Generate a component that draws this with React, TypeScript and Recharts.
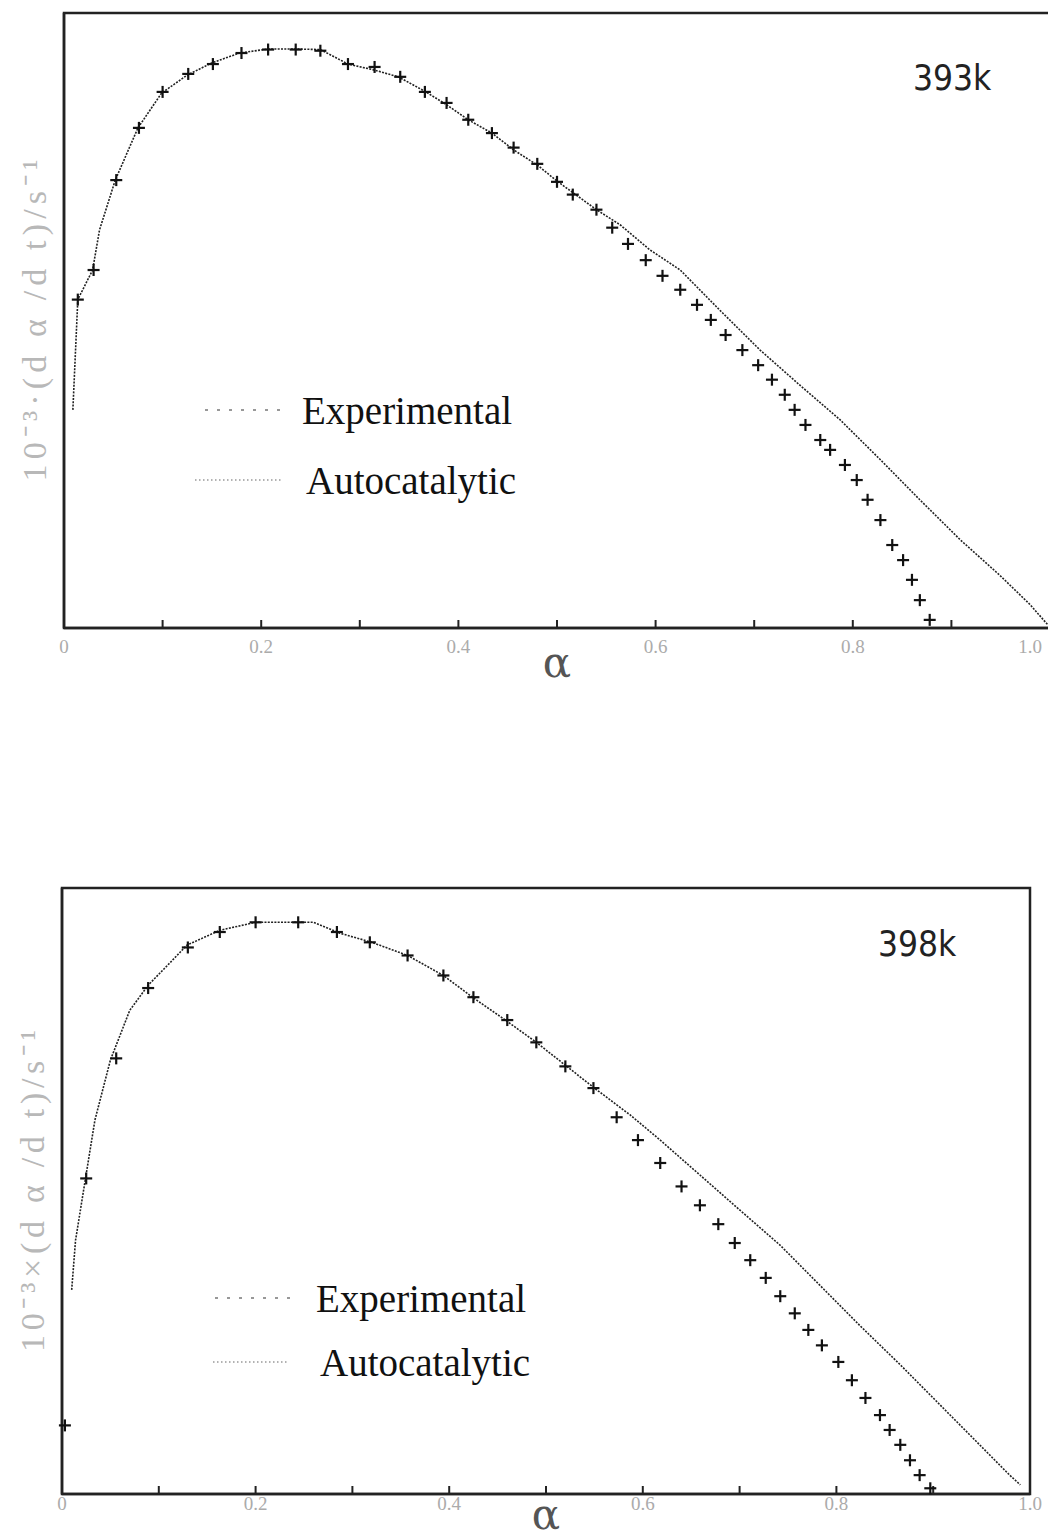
import { ComposedChart, Line, Scatter, XAxis, YAxis, ReferenceArea, Legend } from "recharts";

const alphaTicks = [0, 0.1, 0.2, 0.3, 0.4, 0.5, 0.6, 0.7, 0.8, 0.9, 1.0];
const rateTicks = [1, 2, 3, 4, 5, 6, 7, 8, 9, 10];
const legendNames = ["Experimental", "Autocatalytic"];

// 393 K
const autoAlpha393 = [0.009, 0.014, 0.029, 0.036, 0.052, 0.075, 0.099, 0.125, 0.15, 0.178, 0.207, 0.234, 0.26, 0.288, 0.314, 0.339, 0.365, 0.387, 0.41, 0.434, 0.456, 0.48, 0.501, 0.54, 0.564, 0.594, 0.625, 0.665, 0.706, 0.746, 0.787, 0.828, 0.868, 0.909, 0.949, 0.98, 0.998];
const autoRate393 = [3.76, 5.66, 6.17, 6.86, 7.72, 8.62, 9.22, 9.53, 9.74, 9.91, 9.98, 9.98, 9.97, 9.72, 9.62, 9.5, 9.26, 9.03, 8.76, 8.53, 8.24, 7.98, 7.69, 7.21, 6.95, 6.52, 6.17, 5.48, 4.79, 4.19, 3.59, 2.9, 2.21, 1.52, 0.91, 0.4, 0.05];
const expAlpha393 = [0.014, 0.03, 0.053, 0.076, 0.1, 0.126, 0.151, 0.18, 0.207, 0.235, 0.26, 0.288, 0.315, 0.341, 0.366, 0.388, 0.41, 0.434, 0.456, 0.48, 0.5, 0.516, 0.54, 0.556, 0.572, 0.59, 0.607, 0.625, 0.642, 0.656, 0.671, 0.688, 0.704, 0.718, 0.731, 0.741, 0.752, 0.767, 0.777, 0.792, 0.804, 0.815, 0.828, 0.84, 0.851, 0.86, 0.868, 0.878];
const expRate393 = [5.66, 6.17, 7.72, 8.62, 9.24, 9.55, 9.72, 9.91, 9.97, 9.97, 9.95, 9.72, 9.67, 9.5, 9.24, 9.05, 8.76, 8.53, 8.28, 8.0, 7.69, 7.47, 7.21, 6.9, 6.62, 6.34, 6.07, 5.83, 5.57, 5.31, 5.05, 4.79, 4.53, 4.28, 4.02, 3.76, 3.5, 3.24, 3.07, 2.81, 2.55, 2.21, 1.86, 1.43, 1.17, 0.83, 0.48, 0.14];

// 398 K
const autoAlpha398 = [0.01, 0.014, 0.024, 0.034, 0.05, 0.07, 0.089, 0.112, 0.129, 0.163, 0.2, 0.235, 0.26, 0.287, 0.32, 0.357, 0.394, 0.424, 0.458, 0.49, 0.52, 0.55, 0.587, 0.618, 0.659, 0.7, 0.742, 0.783, 0.824, 0.866, 0.907, 0.948, 0.979, 0.99];
const autoRate398 = [3.57, 4.44, 5.49, 6.54, 7.59, 8.46, 8.9, 9.3, 9.6, 9.86, 10, 10, 10, 9.81, 9.65, 9.42, 9.07, 8.69, 8.29, 7.9, 7.5, 7.1, 6.63, 6.19, 5.58, 4.97, 4.35, 3.65, 2.95, 2.26, 1.56, 0.86, 0.33, 0.16];
const expAlpha398 = [0.003, 0.025, 0.056, 0.089, 0.13, 0.163, 0.2, 0.244, 0.284, 0.318, 0.357, 0.394, 0.425, 0.46, 0.49, 0.52, 0.549, 0.573, 0.595, 0.618, 0.64, 0.659, 0.678, 0.695, 0.711, 0.727, 0.742, 0.757, 0.771, 0.785, 0.802, 0.816, 0.83, 0.845, 0.855, 0.866, 0.876, 0.886, 0.897];
const expRate398 = [1.2, 5.52, 7.62, 8.85, 9.56, 9.83, 10, 10, 9.83, 9.65, 9.42, 9.07, 8.69, 8.29, 7.9, 7.48, 7.1, 6.59, 6.19, 5.79, 5.38, 5.05, 4.72, 4.39, 4.09, 3.78, 3.46, 3.16, 2.87, 2.6, 2.31, 1.99, 1.68, 1.38, 1.12, 0.86, 0.59, 0.33, 0.1];

const toPoints = (xs: number[], ys: number[]) => xs.map((x, i) => ({ x, y: ys[i] }));

const Cross = (props: any) => {
  const { cx, cy } = props;
  return (
    <g stroke="#111" strokeWidth={2.2}>
      <line x1={cx - 6} y1={cy} x2={cx + 6} y2={cy} />
      <line x1={cx} y1={cy - 6} x2={cx} y2={cy + 6} />
    </g>
  );
};

const fmt = (v: number) => {
  const k = Math.round(v * 10);
  if (k % 2 !== 0) return "";
  return k === 0 ? "0" : (k / 10).toFixed(1);
};

const AlphaTick = (props: any) => {
  const { x, y, payload } = props;
  const label = fmt(payload.value);
  if (!label) return null;
  return (
    <text x={Math.min(x, 1030)} y={y} dy="0.71em" textAnchor="middle" fill="#ababab" fontSize={19}
      fontFamily="'Liberation Serif', serif">
      {label}
    </text>
  );
};

const SideLabel = (props: any) => {
  const { viewBox, text, shift } = props;
  const cx = viewBox.x - shift;
  const cy = viewBox.y + viewBox.height / 2;
  return (
    <text x={cx} y={cy} transform={`rotate(-90 ${cx} ${cy})`} textAnchor="middle" dominantBaseline="central"
      fill="#b8b8b8" fontSize={34} fontFamily="'Liberation Serif', serif" textLength={322} lengthAdjust="spacing">
      {text}
    </text>
  );
};

// legend rows: [line start, line end, text start, row height] relative to legend box
type Row = [number, number, number, number];

const makeLegend = (rows: Row[]) => () => (
  <div style={{ fontFamily: "'Liberation Serif', serif", fontSize: 39, color: "#111", lineHeight: 1 }}>
    {legendNames.map((name, i) => {
      const [a, b, t, h] = rows[i];
      return (
        <div key={name} style={{ display: "flex", alignItems: "center", height: h }}>
          <svg width={t} height={20} style={{ flex: "none" }}>
            <line x1={a} y1={10} x2={b} y2={10} stroke={i === 0 ? "#777" : "#999"} strokeWidth={1.6}
              strokeDasharray={i === 0 ? "3 9" : "1.5 2.5"} />
          </svg>
          <span>{name}</span>
        </div>
      );
    })}
  </div>
);

interface PanelProps {
  top: number; width: number; height: number;
  margin: { top: number; right: number; bottom: number; left: number };
  auto: { x: number; y: number }[]; exp: { x: number; y: number }[];
  yLabel: string; title: string; titlePos: { left: number; top: number };
  legendPos: { left: number; top: number }; legendRows: Row[]; tickMargin: number; alphaOffset: number;
}

const Panel = (p: PanelProps) => {
  const LegendContent = makeLegend(p.legendRows);
  return (
    <div style={{ position: "absolute", left: 0, top: p.top }}>
      <ComposedChart width={p.width} height={p.height} margin={p.margin}>
        <XAxis type="number" dataKey="x" domain={[0, 1]} ticks={alphaTicks} height={1}
          tickSize={-8} tickMargin={p.tickMargin} interval={0} tick={<AlphaTick />}
          axisLine={{ stroke: "#222", strokeWidth: 2.5 }} tickLine={{ stroke: "#222", strokeWidth: 2 }}
          label={{ value: "α", position: "bottom", offset: p.alphaOffset, fill: "#555", fontSize: 42, fontFamily: "'DejaVu Serif', serif" }} />
        <YAxis type="number" dataKey="y" domain={[0, 10.6]} ticks={rateTicks} width={1} tick={false} interval={0}
          tickSize={-7} axisLine={{ stroke: "#222", strokeWidth: 2.5 }} tickLine={{ stroke: "#222", strokeWidth: 2 }}
          label={<SideLabel text={p.yLabel} shift={29} />} />
        <ReferenceArea x1={0} x2={1} y1={0} y2={10.6} fill="none" stroke="#222" strokeWidth={2.5} />
        <Line name={legendNames[1]} data={p.auto} dataKey="y" type="linear" stroke="#222" strokeWidth={1.6}
          strokeDasharray="2 1.3" dot={false} isAnimationActive={false} />
        <Scatter name={legendNames[0]} data={p.exp} dataKey="y" shape={<Cross />} isAnimationActive={false} />
        <Legend layout="vertical" align="center" verticalAlign="middle" content={<LegendContent />}
          wrapperStyle={{ left: p.legendPos.left, top: p.legendPos.top, width: 400 }} />
      </ComposedChart>
      <div style={{ position: "absolute", left: p.titlePos.left, top: p.titlePos.top, fontSize: 35,
        fontFamily: "'DejaVu Sans Condensed', 'Liberation Sans Narrow', sans-serif", color: "#222" }}>
        {p.title}
      </div>
    </div>
  );
};

export default function App() {
  return (
    <div style={{ position: "absolute", left: 0, top: 0, width: 1048, height: 1540, overflow: "hidden", background: "#fff" }}>
      <Panel top={0} width={1062} height={700} margin={{ top: 13, right: 12, bottom: 71, left: 63 }}
        auto={toPoints(autoAlpha393, autoRate393)} exp={toPoints(expAlpha393, expRate393)}
        yLabel="10⁻³·(d α /d t)/s⁻¹" title="393k" titlePos={{ left: 913, top: 58 }}
        legendPos={{ left: 180, top: 375 }} legendRows={[[25, 105, 122, 70], [15, 102, 126, 70]]}
        tickMargin={20} alphaOffset={18} />
      <Panel top={870} width={1048} height={670} margin={{ top: 18, right: 18, bottom: 45, left: 61 }}
        auto={toPoints(autoAlpha398, autoRate398)} exp={toPoints(expAlpha398, expRate398)}
        yLabel="10⁻³×(d α /d t)/s⁻¹" title="398k" titlePos={{ left: 878, top: 54 }}
        legendPos={{ left: 200, top: 396 }} legendRows={[[15, 90, 116, 64], [13, 88, 120, 64]]}
        tickMargin={11} alphaOffset={4} />
    </div>
  );
}
